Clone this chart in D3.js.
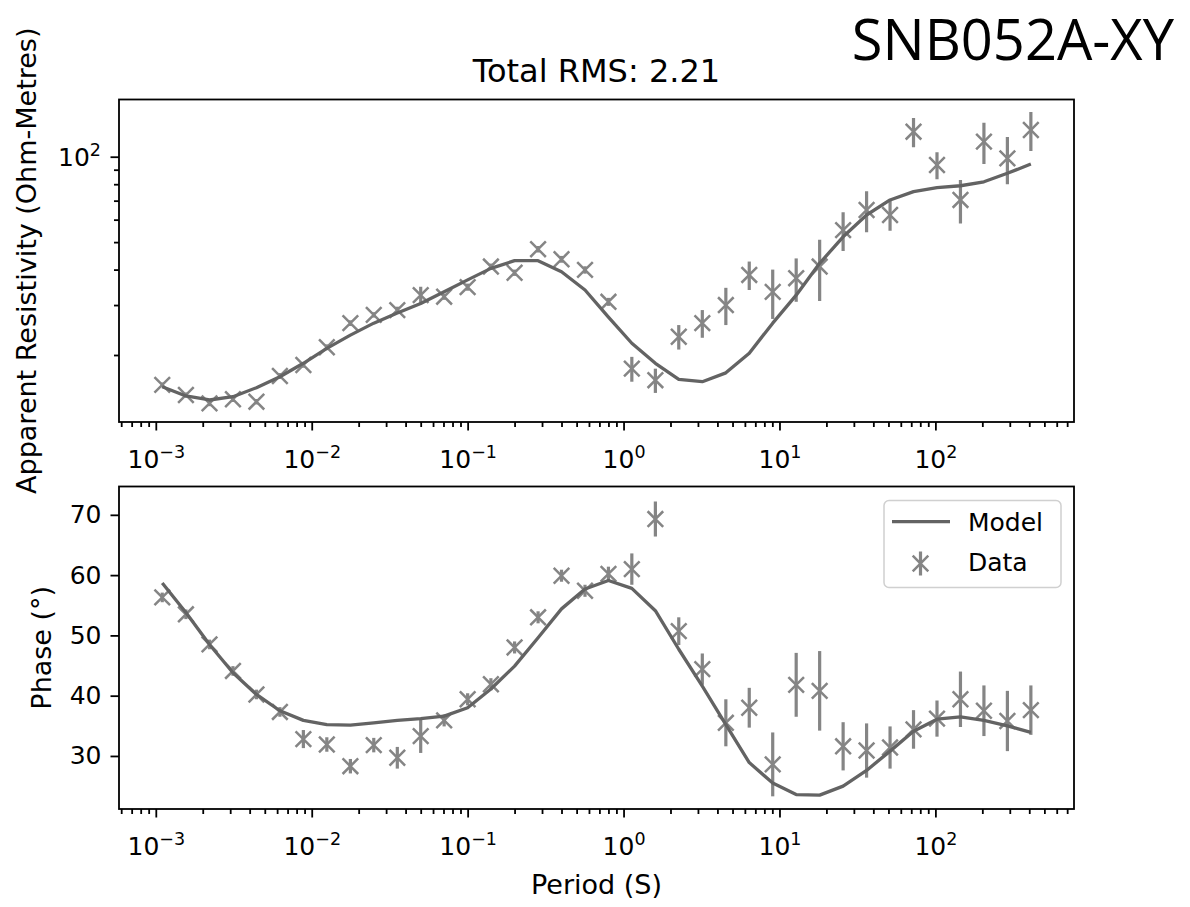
<!DOCTYPE html>
<html>
<head>
<meta charset="utf-8">
<script src="https://cdn.jsdelivr.net/npm/d3@7"></script>
<style>
  html, body { margin: 0; padding: 0; background: #fff; }
  svg { display: block; }
  text { font-family: "DejaVu Sans", sans-serif; fill: #000; }
</style>
</head>
<body>
<svg id="chart" width="1190" height="907"></svg>
<script>
// ---------------- DATA ----------------
const stationName = "SNB052A-XY";
const titleText = "Total RMS: 2.21";

const periods = [0.0011, 0.00156, 0.00221, 0.003125, 0.00442, 0.00625, 0.00884, 0.0125, 0.0177, 0.025,
  0.0354, 0.05, 0.0707, 0.1, 0.141, 0.2, 0.283, 0.4, 0.566, 0.8,
  1.13, 1.6, 2.26, 3.2, 4.53, 6.4, 9.05, 12.8, 18.1, 25.6,
  36.2, 51.2, 72.4, 102.4, 144.8, 204.8, 289.6, 409.6];

const rhoData = [15.7, 14.45, 13.5, 13.96, 13.69, 16.87, 18.44, 21.3, 25.9, 27.7,
  28.8, 32.5, 32.1, 34.7, 41.0, 39.0, 47.2, 43.5, 39.9, 30.8,
  17.9, 16.3, 23.2, 25.9, 30.0, 38.3, 33.4, 37.3, 41.0, 55.1,
  64.9, 62.3, 122.5, 93.5, 70.4, 113, 98.7, 124.2];

const rhoErr = [0.3, 0.3, 0.3, 0.3, 0.3, 0.4, 0.4, 0.5, 0.6, 0.6,
  0.8, 2.3, 0.8, 1.0, 1.0, 1.0, 1.2, 1.2, 1.2, 1.0,
  1.8, 1.6, 2.3, 2.9, 4.5, 4.4, 6.6, 6.5, 10.0, 8.6,
  10.7, 7.5, 14.5, 10.2, 12.3, 18.8, 18.7, 19.5];

const rhoModel = [15.46, 14.34, 13.88, 14.26, 15.34, 16.77, 18.7, 21.1, 23.5, 25.9,
  28.1, 30.4, 33.4, 36.8, 40.4, 43.0, 43.0, 39.3, 33.9, 27.2,
  22.0, 18.7, 16.4, 16.1, 17.3, 20.3, 25.9, 32.5, 42.1, 52.2,
  62.3, 70.4, 75.3, 77.8, 79.0, 81.6, 87.4, 94.2];

const phaseData = [56.3, 53.5, 48.5, 44.1, 40.2, 37.3, 32.8, 31.9, 28.3, 31.8,
  29.7, 33.3, 35.9, 39.4, 41.9, 48.0, 53.0, 59.9, 57.4, 60.2,
  61.0, 69.3, 50.7, 44.4, 35.5, 38.0, 28.6, 41.8, 40.8, 31.6,
  30.9, 31.4, 34.4, 36.2, 39.4, 37.5, 35.8, 37.6];

const phaseErr = [0.8, 0.8, 0.8, 0.8, 0.8, 0.8, 1.5, 1.2, 1.2, 1.2,
  1.8, 2.8, 1.0, 1.0, 1.0, 1.0, 1.0, 1.0, 1.0, 1.2,
  2.6, 2.9, 2.3, 2.6, 3.9, 3.3, 5.3, 5.3, 6.6, 4.0,
  4.5, 3.5, 3.2, 3.0, 4.6, 4.2, 5.0, 4.1];

const phaseModel = [58.7, 53.8, 48.5, 43.8, 40.2, 37.5, 35.9, 35.2, 35.1, 35.5,
  35.9, 36.2, 36.6, 38.0, 41.1, 44.9, 49.6, 54.4, 57.7, 59.1,
  57.8, 54.1, 47.7, 41.6, 35.2, 28.9, 25.5, 23.6, 23.5, 25.0,
  27.6, 30.8, 34.1, 36.1, 36.5, 35.9, 35.0, 33.9];

const xDecades = [-3, -2, -1, 0, 1, 2];
const rhoMajorTicks = [100];
const phaseTicks = [30, 40, 50, 60, 70];
const legendLabels = ["Model", "Data"];

// axis limits
const xLimits = [Math.pow(10, -3.236), Math.pow(10, 2.889)];
const rhoLimits = [11.61, 159.1];
const phaseLimits = [21.2, 74.7];

// ---------------- STYLE / LAYOUT ----------------
const dataColor = "#858585";
const modelColor = "#636363";
const fs = 25;
const labelFs = 27;
const left = 119, right = 1074;
const top1 = 99.5, bot1 = 422;
const top2 = 486.5, bot2 = 809;
const majorLen = 8.5, minorLen = 5;

const svg = d3.select("#chart");
svg.append("rect").attr("width", 1190).attr("height", 907).attr("fill", "#fff");

const x = d3.scaleLog().domain(xLimits).range([left, right]);
const yR = d3.scaleLog().domain(rhoLimits).range([bot1, top1]);
const yP = d3.scaleLinear().domain(phaseLimits).range([bot2, top2]);

const xMinor = [];
for (let d = -4; d <= 3; d++) for (let m = 2; m <= 9; m++) {
  const v = m * Math.pow(10, d);
  if (v >= xLimits[0] && v <= xLimits[1]) xMinor.push(v);
}
const xMajor = xDecades.map(d => Math.pow(10, d));
const rMinor = [];
for (let m = 2; m <= 9; m++) { const v = m * 10; if (v >= rhoLimits[0]) rMinor.push(v); }

function styleAxis(g) {
  g.select(".domain").remove();
  g.selectAll(".tick line").attr("stroke", "#000").attr("stroke-width", 1.8);
}

function supLabel(sel, base, exp, anchor) {
  const t = sel.append("text").attr("text-anchor", anchor).style("font-size", fs + "px");
  t.append("tspan").text(base);
  t.append("tspan").attr("dy", -10).style("font-size", (fs * 0.7) + "px").text(exp);
  return t;
}

function drawXAxis(yBottom) {
  const gMinor = svg.append("g").attr("transform", `translate(0,${yBottom})`)
    .call(d3.axisBottom(x).tickValues(xMinor).tickSize(minorLen).tickFormat(""));
  styleAxis(gMinor);
  const gMajor = svg.append("g").attr("transform", `translate(0,${yBottom})`)
    .call(d3.axisBottom(x).tickValues(xMajor).tickSize(majorLen).tickFormat(""));
  styleAxis(gMajor);
  gMajor.selectAll(".tick").each(function(d, i) {
    const lab = supLabel(d3.select(this), "10", String(xDecades[i]).replace("-", "\u2212"), "middle");
    lab.attr("y", 46);
  });
}

function frame(yTop, yBottom) {
  svg.append("rect").attr("x", left).attr("y", yTop)
    .attr("width", right - left).attr("height", yBottom - yTop)
    .attr("fill", "none").attr("stroke", "#000").attr("stroke-width", 1.8);
}

// clip paths
const defs = svg.append("defs");
defs.append("clipPath").attr("id", "clip1").append("rect")
  .attr("x", left).attr("y", top1).attr("width", right - left).attr("height", bot1 - top1);
defs.append("clipPath").attr("id", "clip2").append("rect")
  .attr("x", left).attr("y", top2).attr("width", right - left).attr("height", bot2 - top2);

function drawSeries(yScale, dataVals, errVals, modelVals, clipId) {
  const g = svg.append("g").attr("clip-path", `url(#${clipId})`);
  // error bars
  g.selectAll("line.err").data(periods).enter().append("line")
    .attr("x1", d => x(d)).attr("x2", d => x(d))
    .attr("y1", (d, i) => yScale(dataVals[i] - errVals[i]))
    .attr("y2", (d, i) => yScale(dataVals[i] + errVals[i]))
    .attr("stroke", dataColor).attr("stroke-width", 3.2);
  // x markers
  const ms = 7.8;
  const mk = g.selectAll("g.mk").data(periods).enter().append("g")
    .attr("transform", (d, i) => `translate(${x(d)},${yScale(dataVals[i])})`);
  mk.append("path").attr("d", `M${-ms},${-ms}L${ms},${ms}M${-ms},${ms}L${ms},${-ms}`)
    .attr("stroke", dataColor).attr("stroke-width", 2.5).attr("fill", "none");
  // model line
  const line = d3.line().x((d, i) => x(periods[i])).y(d => yScale(d));
  g.append("path").attr("d", line(modelVals)).attr("fill", "none")
    .attr("stroke", modelColor).attr("stroke-width", 3.3).attr("stroke-linejoin", "round");
}

// ---------- top panel ----------
drawSeries(yR, rhoData, rhoErr, rhoModel, "clip1");
drawXAxis(bot1);
{
  const gMinor = svg.append("g").attr("transform", `translate(${left},0)`)
    .call(d3.axisLeft(yR).tickValues(rMinor).tickSize(minorLen).tickFormat(""));
  styleAxis(gMinor);
  const gMajor = svg.append("g").attr("transform", `translate(${left},0)`)
    .call(d3.axisLeft(yR).tickValues(rhoMajorTicks).tickSize(majorLen).tickFormat(""));
  styleAxis(gMajor);
  gMajor.selectAll(".tick").each(function(d) {
    const lab = supLabel(d3.select(this), "10", String(Math.round(Math.log10(d))), "end");
    lab.attr("x", -18).attr("y", 9);
  });
}
frame(top1, bot1);

// ---------- bottom panel ----------
drawSeries(yP, phaseData, phaseErr, phaseModel, "clip2");
drawXAxis(bot2);
{
  const gY = svg.append("g").attr("transform", `translate(${left},0)`)
    .call(d3.axisLeft(yP).tickValues(phaseTicks).tickSize(majorLen).tickPadding(9));
  styleAxis(gY);
  gY.selectAll(".tick text").style("font-size", fs + "px").attr("fill", "#000")
    .style("font-family", "DejaVu Sans");
}
frame(top2, bot2);

// ---------- labels ----------
svg.append("text").attr("x", (left + right) / 2).attr("y", 82)
  .attr("text-anchor", "middle").style("font-size", "32px").text(titleText);

svg.append("text").attr("x", 1174).attr("y", 60)
  .attr("text-anchor", "end").style("font-size", "56px")
  .style("font-family", "'Open Sans', 'Noto Sans', sans-serif").text(stationName);

svg.append("text")
  .attr("transform", `translate(36,${(top1 + bot1) / 2}) rotate(-90)`)
  .attr("text-anchor", "middle").style("font-size", labelFs + "px")
  .text("Apparent Resistivity (Ohm-Metres)");

svg.append("text")
  .attr("transform", `translate(51,${(top2 + bot2) / 2}) rotate(-90)`)
  .attr("text-anchor", "middle").style("font-size", labelFs + "px")
  .text("Phase (\u00B0)");

svg.append("text").attr("x", (left + right) / 2).attr("y", 894)
  .attr("text-anchor", "middle").style("font-size", labelFs + "px").text("Period (S)");

// ---------- legend ----------
{
  const lg = svg.append("g");
  lg.append("rect").attr("x", 884).attr("y", 500.5).attr("width", 177).attr("height", 87)
    .attr("rx", 5).attr("fill", "#fff").attr("fill-opacity", 0.8)
    .attr("stroke", "#d0d0d0").attr("stroke-width", 1.5);
  lg.append("line").attr("x1", 892).attr("x2", 950).attr("y1", 521.7).attr("y2", 521.7)
    .attr("stroke", modelColor).attr("stroke-width", 3.3);
  lg.append("line").attr("x1", 920.5).attr("x2", 920.5).attr("y1", 551.5).attr("y2", 575.5)
    .attr("stroke", dataColor).attr("stroke-width", 3.2);
  const ms = 7.8;
  lg.append("path").attr("transform", "translate(920.5,563.5)")
    .attr("d", `M${-ms},${-ms}L${ms},${ms}M${-ms},${ms}L${ms},${-ms}`)
    .attr("stroke", dataColor).attr("stroke-width", 2.5);
  lg.append("text").attr("x", 968).attr("y", 531).style("font-size", fs + "px").text(legendLabels[0]);
  lg.append("text").attr("x", 968).attr("y", 571).style("font-size", fs + "px").text(legendLabels[1]);
}
</script>
</body>
</html>
